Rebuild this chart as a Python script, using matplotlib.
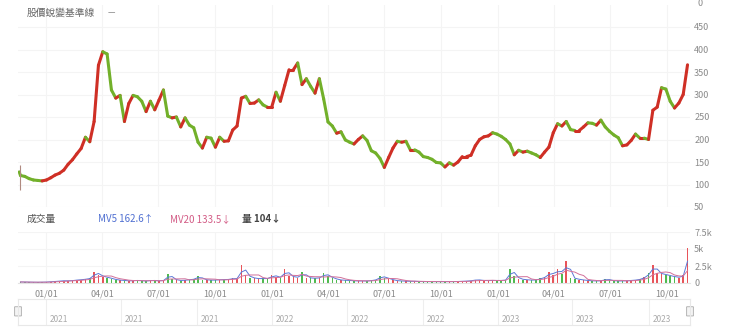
import numpy as np
import pandas as pd
import matplotlib
matplotlib.use("Agg")
import matplotlib.pyplot as plt
import matplotlib.dates as mdates
from matplotlib.collections import LineCollection
from matplotlib.patches import FancyBboxPatch

plt.rcParams['font.family'] = ['Noto Sans CJK TC', 'DejaVu Sans']

# weekly closes (one value per week from 2020-11-20)
start_date = '2020-11-20'
closes = [
    120, 118, 113, 110, 109, 108, 110, 115, 121, 125,
    132, 145, 155, 168, 180, 205, 195, 240, 365, 395,
    390, 310, 292, 298, 240, 280, 298, 295, 285, 262,
    285, 266, 288, 310, 252, 248, 250, 228, 248, 232,
    226, 194, 181, 205, 203, 183, 205, 196, 197, 221,
    230, 292, 296, 280, 281, 288, 277, 272, 272, 305,
    285, 320, 355, 355, 370, 322, 335, 318, 303, 335,
    290, 239, 230, 214, 217, 199, 194, 190, 200, 208,
    198, 175, 170, 158, 138, 160, 181, 196, 194, 196,
    177, 177, 172, 162, 160, 156, 149, 148, 139, 148,
    143, 150, 162, 162, 165, 186, 200, 206, 208, 215,
    212, 207, 200, 190, 166, 176, 172, 174, 170, 166,
    160, 172, 183, 215, 235, 230, 240, 222, 220, 220,
    228, 237, 236, 232, 243, 228, 218, 210, 204, 186,
    188, 198, 212, 203, 203, 200, 265, 272, 315, 312,
    285, 270, 281, 300, 366,
]
first_open = 128

# daily-scale volume per week
volumes = [
    150, 120, 100, 100, 110, 120, 150, 200, 250, 300,
    350, 300, 400, 450, 500, 600, 700, 1600, 1200, 900,
    800, 600, 450, 400, 350, 300, 350, 400, 300, 300,
    400, 350, 300, 400, 1300, 600, 400, 350, 450, 500,
    600, 1000, 500, 450, 400, 450, 500, 500, 550, 700,
    600, 2600, 1200, 800, 700, 600, 700, 600, 1200, 900,
    800, 2000, 1000, 900, 800, 1600, 800, 700, 700, 800,
    1400, 1000, 700, 500, 400, 400, 350, 300, 300, 300,
    300, 400, 500, 1000, 800, 600, 400, 300, 300, 250,
    250, 250, 200, 200, 200, 200, 200, 200, 200, 200,
    200, 250, 250, 300, 350, 500, 400, 350, 350, 400,
    350, 400, 450, 2100, 1000, 600, 500, 450, 400, 500,
    700, 900, 1600, 1200, 2100, 1300, 3200, 800, 600, 500,
    400, 350, 300, 300, 350, 600, 400, 300, 300, 300,
    350, 400, 450, 600, 900, 1500, 2600, 1500, 1300, 1200,
    1000, 900, 800, 1200, 5200,
]

title_text = '股價蛻變基準線'
vol_title = '成交量'
mv5_text = 'MV5 162.6↑'
mv20_text = 'MV20 133.5↓'
vol_text = '量 104↓'

price_ticks = [50, 100, 150, 200, 250, 300, 350, 400, 450]
vol_ticks = [0, 2500, 5000, 7500]
vol_tick_labels = ['0', '2.5k', '5k', '7.5k']

up_color = '#cf2f25'
down_color = '#72b02a'
grid_color = '#f4f4f4'
label_color = '#8a8a8a'

dates = pd.date_range(start_date, periods=len(closes), freq='7D')
close = np.array(closes, dtype=float)
opens = np.r_[first_open, close[:-1]]
up = close >= opens
colors = np.where(up, up_color, down_color)

W, H = 740, 332
fig = plt.figure(figsize=(W / 100, H / 100), dpi=100)

def box(x0, y0, x1, y1):
    return [x0 / W, 1 - y1 / H, (x1 - x0) / W, (y1 - y0) / H]

x_lo = dates[0] - pd.Timedelta(days=4)
x_hi = dates[-1] + pd.Timedelta(days=4)
quarters = pd.date_range('2021-01-01', '2023-10-01', freq='QS')

# price panel: each week drawn from previous close to its close
ax = fig.add_axes(box(18, 4.5, 690, 207))
xn = mdates.date2num(dates)
xo = np.r_[xn[0] - 2, xn[:-1]]
segs = [[(xo[i], opens[i]), (xn[i], close[i])] for i in range(len(xn))]
ax.add_collection(LineCollection(segs, colors=colors, linewidths=2.2, capstyle='round'))
ax.vlines(dates[0], 88, 143, color='#b08a80', linewidth=0.8)
ax.set_xlim(x_lo, x_hi)
ax.set_ylim(50, 500)
ax.set_yticks(price_ticks)
ax.yaxis.tick_right()
ax.tick_params(axis='y', length=0, labelsize=6.5, labelcolor=label_color, pad=3)
ax.set_xticks(quarters)
ax.tick_params(axis='x', length=0, labelbottom=False)
ax.grid(True, color=grid_color, linewidth=0.8)
ax.set_axisbelow(True)
for s in ax.spines.values():
    s.set_visible(False)

fig.text(27 / W, 1 - 13 / H, title_text, fontsize=7, color='#666666', va='center')
fig.text(108 / W, 1 - 13 / H, '—', fontsize=6, color='#888888', va='center')
fig.text(697 / W, 1 - 3 / H, '0', fontsize=6.5, color=label_color, va='center')

# volume panel
axv = fig.add_axes(box(18, 232, 690, 283))
vol = pd.Series(volumes, index=dates, dtype=float)
axv.bar(dates, vol.values, width=2.5, color=np.where(up, '#e8545a', '#4fba4f'), linewidth=0)
axv.plot(dates, vol.rolling(2, min_periods=1).mean(), color='#5b78d6', linewidth=0.7)
axv.plot(dates, vol.rolling(5, min_periods=1).mean(), color='#d2709a', linewidth=0.7)
axv.set_xlim(x_lo, x_hi)
axv.set_ylim(0, 7500)
axv.set_yticks(vol_ticks)
axv.set_yticklabels(vol_tick_labels)
axv.yaxis.tick_right()
axv.tick_params(axis='y', length=0, labelsize=6.5, labelcolor=label_color, pad=3)
axv.set_xticks(quarters)
axv.xaxis.set_major_formatter(mdates.DateFormatter('%m/%d'))
axv.tick_params(axis='x', length=0, labelsize=6.5, labelcolor=label_color, pad=5)
axv.grid(True, color=grid_color, linewidth=0.8)
axv.set_axisbelow(True)
for s in axv.spines.values():
    s.set_visible(False)
axv.spines['bottom'].set_visible(True)
axv.spines['bottom'].set_color('#e3e3e3')

fig.text(27 / W, 1 - 219 / H, vol_title, fontsize=7, color='#555555', va='center')
fig.text(98 / W, 1 - 219 / H, mv5_text, fontsize=7, color='#4f6fd1', va='center')
fig.text(170 / W, 1 - 219 / H, mv20_text, fontsize=7, color='#d35c86', va='center')
fig.text(242 / W, 1 - 219 / H, vol_text, fontsize=7, color='#444444', va='center',
         fontweight='bold')

# navigator strip
axn = fig.add_axes(box(18, 299, 690, 325))
axn.set_xlim(x_lo, x_hi)
axn.set_ylim(0, 1)
axn.set_xticks([])
axn.set_yticks([])
for s in axn.spines.values():
    s.set_color('#e8e8e8')
    s.set_linewidth(0.8)
nav_marks = pd.date_range('2021-01-01', '2023-09-01', freq='4MS')
for d in nav_marks:
    axn.axvline(d, color='#eeeeee', linewidth=0.8)
    axn.text(d + pd.Timedelta(days=6), 0.2, str(d.year), fontsize=6, color='#aaaaaa',
             va='center')
for xh in (0.0, 1.0):
    axn.add_patch(FancyBboxPatch((xh - 0.003, 0.35), 0.006, 0.35,
                                 boxstyle='round,pad=0.002', transform=axn.transAxes,
                                 facecolor='#f4f4f4', edgecolor='#aaaaaa',
                                 linewidth=0.6, clip_on=False))

fig.savefig('out.png', dpi=100)
